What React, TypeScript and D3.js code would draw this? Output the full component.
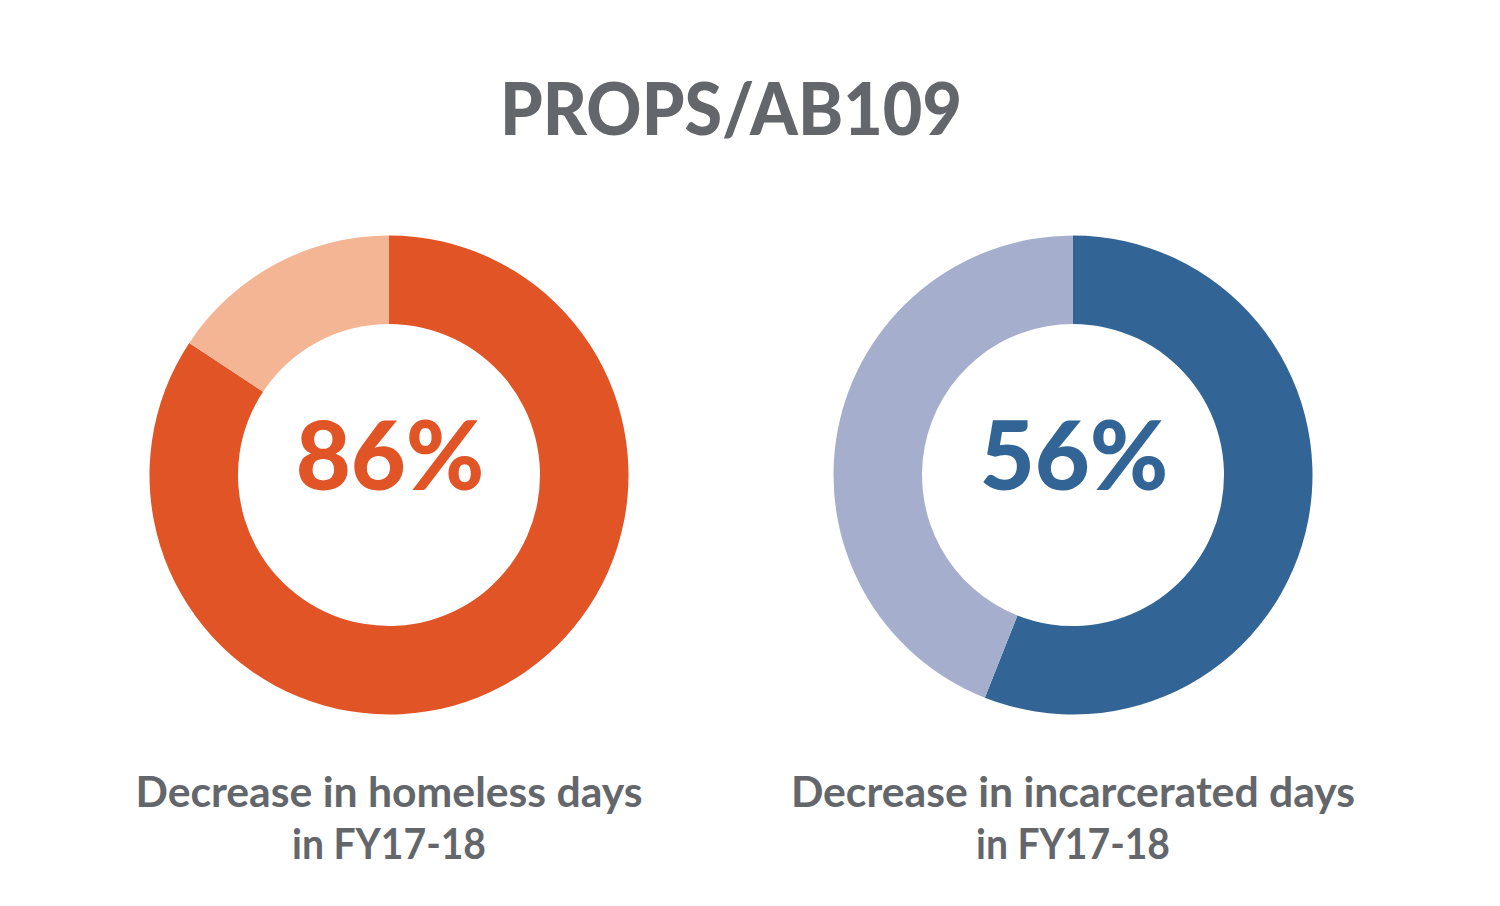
import React from "react";
import * as d3 from "d3";

const title = "PROPS/AB109";
const charts = ["homeless", "incarcerated"];
const percentLabels = ["86%", "56%"];
const mainValues = [84.3, 56];
const restValues = [15.7, 44];
const captionLine1 = ["Decrease in homeless days", "Decrease in incarcerated days"];
const captionLine2 = ["in FY17-18", "in FY17-18"];
const mainColors = ["#E15425", "#326496"];
const restColors = ["#F4B595", "#A5AECC"];

const W = 1500;
const H = 906;
const FONT = "Lato, 'Open Sans', sans-serif";

export default function App() {
  const x = d3.scalePoint<string>().domain(charts).range([389, 1073]);
  const cy = 475;
  const arc = d3.arc<d3.PieArcDatum<number>>().innerRadius(151).outerRadius(239.5);
  const pie = d3.pie<number>().sort(null).value((d) => d);

  return (
    <svg width={W} height={H} style={{ position: "absolute", left: 0, top: 0 }}>
      <rect width={W} height={H} fill="#ffffff" />
      <text x={731} y={135} textAnchor="middle" fontFamily={FONT} fontWeight={900} fontSize={72} fill="#63666A" textLength={462} lengthAdjust="spacingAndGlyphs">
        {title}
      </text>
      {charts.map((c, i) => {
        const cx = x(c)!;
        const arcs = pie([mainValues[i], restValues[i]]);
        return (
          <g key={c}>
            <g transform={`translate(${cx},${cy})`}>
              {arcs.map((a, j) => (
                <path key={j} d={arc(a)!} fill={j === 0 ? mainColors[i] : restColors[i]} />
              ))}
              <text x={1} y={15} textAnchor="middle" fontFamily={FONT} fontWeight={900} fontSize={95} fill={mainColors[i]}>
                {percentLabels[i]}
              </text>
            </g>
            <text x={cx} y={807} textAnchor="middle" fontFamily={FONT} fontWeight={700} fontSize={42.7} fill="#63666A">
              {captionLine1[i]}
            </text>
            <text x={cx} y={859} textAnchor="middle" fontFamily={FONT} fontWeight={700} fontSize={42.7} fill="#63666A" textLength={194} lengthAdjust="spacingAndGlyphs">
              {captionLine2[i]}
            </text>
          </g>
        );
      })}
    </svg>
  );
}
